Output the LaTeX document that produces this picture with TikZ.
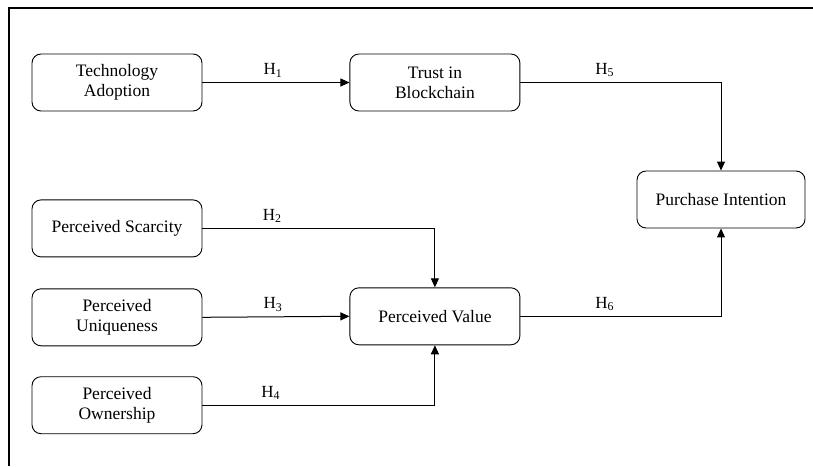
\documentclass[tikz,border=0pt]{standalone}
\usepackage{fontspec}
\setmainfont{Liberation Serif}
\usetikzlibrary{positioning,arrows.meta}
\tikzset{
  factor/.style={draw, line width=0.9pt, rounded corners=9pt, minimum width=170pt,
    minimum height=57pt, align=center, inner sep=2pt,
    font=\fontsize{17.5}{20}\selectfont},
  hyp/.style={above, inner sep=0pt, yshift=5pt, font=\fontsize{17}{19}\selectfont},
  link/.style={line width=1pt, -{Triangle[length=9pt,width=8pt]}}
}
\begin{document}
\begin{tikzpicture}[x=1pt,y=-1pt]
		\useasboundingbox (0,0) rectangle (813,466);
		\draw[line width=1.2pt] (813,8) -- (9,8) -- (9,466);
		\node (tech) [factor] at (117,82.5) {Technology\\Adoption};
		\node (trust) [factor, right=147pt of tech] {Trust in\\Blockchain};
		\node (scarce) [factor, below=88pt of tech] {Perceived Scarcity};
		\node (unique) [factor, below=31pt of scarce] {Perceived\\Uniqueness};
		\node (owner) [factor, below=30pt of unique] {Perceived\\Ownership};
		\node (value) [factor, right=147pt of unique, yshift=1pt] {Perceived Value};
		\node (intent) [factor, minimum width=168pt] at (721,199.5) {Purchase Intention};
		\draw[link] (tech) -- node[hyp, pos=0.48] {H\textsubscript{1}} (trust);
		\draw[link] (scarce.east) -| node[hyp, pos=0.15] {H\textsubscript{2}} (value.north);
		\draw[link] (unique.east) -- node[hyp, pos=0.48] {H\textsubscript{3}} (value.west);
		\draw[link] (owner.east) -| node[hyp, pos=0.147] {H\textsubscript{4}} (value.south);
		\draw[link] (trust.east) -| node[hyp, pos=0.21] {H\textsubscript{5}} (intent.north);
		\draw[link] (value.east) -| node[hyp, pos=0.21] {H\textsubscript{6}} (intent.south);
		\end{tikzpicture}
\end{document}
